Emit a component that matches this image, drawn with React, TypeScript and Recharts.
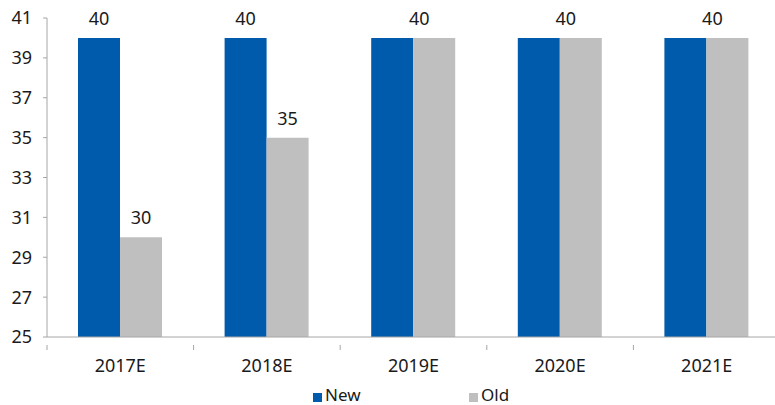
import { BarChart, Bar, XAxis, YAxis, LabelList } from 'recharts';

const categories = ['2017E', '2018E', '2019E', '2020E', '2021E'];
const newValues = [40, 40, 40, 40, 40];
const oldValues = [30, 35, 40, 40, 40];
const yTicks = [25, 27, 29, 31, 33, 35, 37, 39, 41];

const data = categories.map((name, i) => ({
  name,
  New: newValues[i],
  Old: oldValues[i],
}));

const NEW_COLOR = '#005BAC';
const OLD_COLOR = '#BFBFBF';
const AXIS_COLOR = '#A6A6A6';
const TEXT_COLOR = '#1a1a1a';
const FONT = '"Noto Sans", sans-serif';
const FS = 18;

const CHART_W = 780;
const CHART_H = 405;
const Y_AXIS_W = 47;
const BAND = (CHART_W - Y_AXIS_W) / categories.length;

// x tick: label at category center, tick mark at the left boundary (Excel style)
const CategoryTick = (props: any) => {
  const { x, y, payload } = props;
  const left = x - BAND / 2;
  return (
    <g>
      <line x1={left} y1={y} x2={left} y2={y + 5} stroke={AXIS_COLOR} strokeWidth={1} />
      <text
        x={x}
        y={y + 14}
        dy="0.71em"
        textAnchor="middle"
        fill={TEXT_COLOR}
        fontSize={FS}
        fontFamily={FONT}
      >
        {payload.value}
      </text>
    </g>
  );
};

const newLabel = (props: any) => {
  const { x, y, width, index } = props;
  if (oldValues[index] === newValues[index]) return null;
  return (
    <text x={x + width / 2} y={y - 13} textAnchor="middle" fill={TEXT_COLOR} fontSize={FS} fontFamily={FONT}>
      {newValues[index]}
    </text>
  );
};

const oldLabel = (props: any) => {
  const { x, y, width, index } = props;
  const same = oldValues[index] === newValues[index];
  const cx = same ? x + 6 : x + width / 2;
  return (
    <text x={cx} y={y - 13} textAnchor="middle" fill={TEXT_COLOR} fontSize={FS} fontFamily={FONT}>
      {oldValues[index]}
    </text>
  );
};

export default function App() {
  return (
    <div
      style={{
        position: 'absolute',
        left: 0,
        top: 0,
        width: 775,
        height: CHART_H,
        overflow: 'hidden',
        background: '#fff',
      }}
    >
      <BarChart
        width={CHART_W}
        height={CHART_H}
        data={data}
        margin={{ top: 18, right: 0, bottom: 0, left: 0 }}
        barGap={0}
      >
        <XAxis
          dataKey="name"
          height={68}
          stroke={AXIS_COLOR}
          tickLine={false}
          tick={<CategoryTick />}
          interval={0}
        />
        <YAxis
          width={Y_AXIS_W}
          domain={[25, 41]}
          ticks={yTicks}
          interval={0}
          stroke={AXIS_COLOR}
          tickSize={4}
          tickMargin={11}
          tick={{ fill: TEXT_COLOR, fontSize: FS, fontFamily: FONT }}
        />
        <Bar dataKey="New" fill={NEW_COLOR} barSize={42} isAnimationActive={false}>
          <LabelList dataKey="New" content={newLabel} />
        </Bar>
        <Bar dataKey="Old" fill={OLD_COLOR} barSize={42} isAnimationActive={false}>
          <LabelList dataKey="Old" content={oldLabel} />
        </Bar>
      </BarChart>
      <div
        style={{
          position: 'absolute',
          top: 385,
          left: 0,
          width: 775,
          height: 19,
          fontFamily: FONT,
          fontSize: 17,
          lineHeight: '19px',
          color: TEXT_COLOR,
        }}
      >
        <span style={{ position: 'absolute', left: 313, top: 8, width: 9, height: 9, background: NEW_COLOR }} />
        <span style={{ position: 'absolute', left: 325, top: 0 }}>New</span>
        <span style={{ position: 'absolute', left: 469, top: 8, width: 9, height: 9, background: OLD_COLOR }} />
        <span style={{ position: 'absolute', left: 481, top: 0 }}>Old</span>
      </div>
    </div>
  );
}
